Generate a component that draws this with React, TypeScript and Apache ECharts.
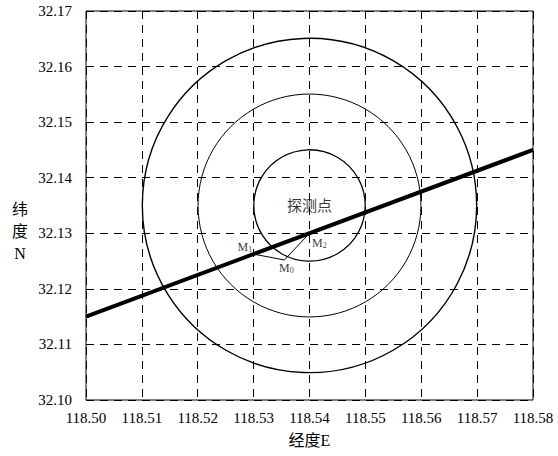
import React, { useEffect, useRef } from "react";
import * as echarts from "echarts";

const xTicks = [118.5, 118.51, 118.52, 118.53, 118.54, 118.55, 118.56, 118.57, 118.58];
const yTicks = [32.1, 32.11, 32.12, 32.13, 32.14, 32.15, 32.16, 32.17];

// circles: [centerLon, centerLat, radius]
const circles: [number, number, number][] = [
  [118.54, 32.135, 0.01],
  [118.54, 32.135, 0.02],
  [118.54, 32.135, 0.03],
];
const circleWidths = [1.3, 1, 1.4];

const pathLine: [number, number][] = [
  [118.5, 32.115],
  [118.58, 32.145],
];

const M1: [number, number] = [118.53, 32.12625];
const M0: [number, number] = [118.5355, 32.1252];
const M2: [number, number] = [118.54, 32.13];
const triangle = [M1, M0, M2];
const probeCenter: [number, number] = [118.54, 32.135];

const yName = "纬\n度\nN";
const xName = "经度E";

const FONT = "'Liberation Serif', 'Times New Roman', 'Noto Sans CJK SC', serif";

export default function App() {
  const ref = useRef<HTMLDivElement>(null);
  useEffect(() => {
    if (!ref.current) return;
    const chart = echarts.init(ref.current, undefined, { renderer: "svg" });
    const rich = {
      m: { fontSize: 12, fontFamily: FONT, color: "#000" },
      s: { fontSize: 8, fontFamily: FONT, color: "#000", padding: [4, 0, 0, 0] },
    };
    chart.setOption({
      animation: false,
      textStyle: { fontFamily: FONT, color: "#000" },
      grid: {
        left: 86,
        right: 25,
        top: 11,
        bottom: 56,
        show: true,
        borderColor: "#000",
        borderWidth: 1,
      },
      graphic: [
        {
          type: "text",
          x: 20,
          y: 231,
          style: {
            text: yName,
            fontSize: 16,
            fontFamily: FONT,
            fill: "#000",
            align: "center",
            verticalAlign: "middle",
            lineHeight: 22,
          },
        },
      ],
      xAxis: {
        type: "value",
        min: xTicks[0],
        max: xTicks[xTicks.length - 1],
        interval: 0.01,
        name: xName,
        nameLocation: "middle",
        nameGap: 32,
        nameTextStyle: { fontSize: 16, fontFamily: FONT, color: "#000" },
        axisLine: { show: false },
        axisTick: { show: false },
        axisLabel: {
          fontSize: 15,
          fontFamily: FONT,
          color: "#000",
          margin: 10,
          formatter: (v: number) => v.toFixed(2),
        },
        splitLine: { show: true, lineStyle: { color: "#000", width: 1, type: [8, 6] } },
      },
      yAxis: {
        type: "value",
        min: yTicks[0],
        max: yTicks[yTicks.length - 1],
        interval: 0.01,
        axisLine: { show: false },
        axisTick: { show: false },
        axisLabel: {
          fontSize: 15,
          fontFamily: FONT,
          color: "#000",
          margin: 14,
          formatter: (v: number) => v.toFixed(2),
        },
        splitLine: { show: true, lineStyle: { color: "#000", width: 1, type: [8, 6] } },
      },
      series: [
        {
          type: "custom",
          clip: false,
          data: circles,
          renderItem: (params: any, api: any) => {
            const c = api.coord([api.value(0), api.value(1)]);
            const s = api.size([api.value(2), api.value(2)]);
            return {
              type: "circle",
              shape: { cx: c[0], cy: c[1], r: (s[0] + s[1]) / 2 },
              style: { fill: "none", stroke: "#000", lineWidth: circleWidths[params.dataIndex] },
              silent: true,
            };
          },
          z: 3,
        },
        {
          type: "line",
          data: pathLine,
          symbol: "none",
          lineStyle: { color: "#000", width: 4 },
          z: 4,
        },
        {
          type: "line",
          data: triangle,
          symbol: "none",
          lineStyle: { color: "#000", width: 1 },
          z: 4,
        },
        {
          type: "scatter",
          symbolSize: 1,
          itemStyle: { color: "rgba(0,0,0,0)" },
          z: 5,
          data: [
            {
              value: M1,
              label: { show: true, position: "left", distance: 1, offset: [0, -7], formatter: "{m|M}{s|1}", rich },
            },
            {
              value: M0,
              label: { show: true, position: "bottom", distance: 2, offset: [2, 0], formatter: "{m|M}{s|0}", rich },
            },
            {
              value: M2,
              label: { show: true, position: "right", distance: 2, offset: [0, 10], formatter: "{m|M}{s|2}", rich },
            },
            {
              value: probeCenter,
              label: {
                show: true,
                position: "inside",
                formatter: "探测点",
                fontSize: 15,
                fontFamily: FONT,
                color: "#000",
              },
            },
          ],
        },
      ],
    });
    return () => chart.dispose();
  }, []);
  return <div ref={ref} style={{ width: 558, height: 456, position: "absolute", left: 0, top: 0 }} />;
}
